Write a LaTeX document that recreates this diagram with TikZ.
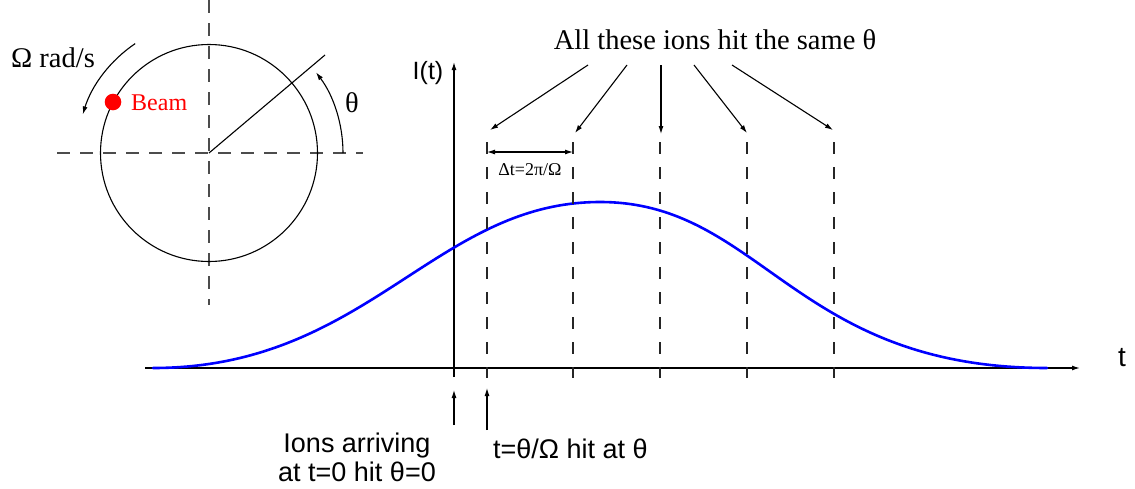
\documentclass[tikz,border=0pt]{standalone}
\usepackage{fontspec}
\setmainfont{Liberation Serif}
\setsansfont{Liberation Sans}
\usetikzlibrary{arrows.meta}
\tikzset{
  tip/.style={-{Latex[length=8pt,width=5pt]}},
  thinline/.style={line width=1.1pt,black},
  axisdash/.style={line width=1.3pt,black!70,dash pattern=on 13pt off 10pt},
  graphdash/.style={line width=1.2pt,black!85,dash pattern=on 12pt off 13pt},
  serifbig/.style={font=\fontsize{28.5}{30}\selectfont,inner sep=0pt},
  sansbig/.style={font=\sffamily\fontsize{27}{29}\selectfont,inner sep=0pt},
}
\begin{document}
\begin{tikzpicture}[x=1pt,y=-1pt]
\useasboundingbox (0,0) rectangle (1135,488);
% ---- circle part ----
\coordinate (C) at (209,153);
\coordinate (vtop) at (209,0);
\coordinate (vbot) at (209,305);
\coordinate (hl) at (57,153);
\coordinate (hr) at (363,153);
\draw[axisdash] (vtop) -- (vbot);
\draw[axisdash] (hl) -- (hr);
\draw[line width=1.1pt] (C) circle[radius=108.5];
\coordinate (R) at (325,55);
\draw[thinline] (C) -- (R);
\coordinate (thS) at (343,153);
\draw[thinline,tip] (thS) arc[start angle=0,end angle=-37,radius=134];
\coordinate (omS) at (135.2,43.6);
\draw[thinline,tip] (omS) arc[start angle=-124,end angle=-163,radius=132];
\node[serifbig] (om) at (53,58) {Ω rad/s};
\node[serifbig] (th) at (352,103) {θ};
\fill[red] (113,102) circle[radius=8.3];
\node[red,anchor=west,font=\fontsize{24}{26}\selectfont,inner sep=0pt] (beam) at (131,103) {Beam};
% ---- graph ----
\coordinate (x0) at (145,368);
\coordinate (x1) at (1080,368);
\coordinate (y0) at (454,377);
\coordinate (y1) at (454,62);
\draw[line width=1.3pt,tip] (x0) -- (x1);
\draw[line width=1.3pt,tip] (y0) -- (y1);
\node[font=\sffamily\fontsize{25}{27}\selectfont,inner sep=0pt] (It) at (428,73) {I(t)};
\node[font=\sffamily\fontsize{28}{30}\selectfont,inner sep=0pt] (tl) at (1122,358) {t};
% bell curve
\coordinate (g0) at (153,368);
\coordinate (gp) at (600,202);
\coordinate (g1) at (1047,368);
\draw[blue,line width=2.6pt,line cap=round]
  (g0) .. controls (367,368) and (435,202) .. (gp)
       .. controls (761,202) and (794,368) .. (g1);
% dashed verticals
\foreach \n/\x in {a/487,b/573,c/660,d/747,e/834}{
  \coordinate (d\n t) at (\x,142);
  \coordinate (d\n b) at (\x,378);
  \draw[graphdash] (d\n t) -- (d\n b);
}
% top label + arrows
\node[serifbig] (all) at (715,40) {All these ions hit the same θ};
\coordinate (s1) at (588,65); \coordinate (e1) at (490,130);
\coordinate (s2) at (627,65); \coordinate (e2) at (575,133);
\coordinate (s3) at (661,65); \coordinate (e3) at (661,134);
\coordinate (s4) at (694,65); \coordinate (e4) at (747,133);
\coordinate (s5) at (732,65); \coordinate (e5) at (833,130);
\foreach \i in {1,...,5}{ \draw[thinline,tip] (s\i) -- (e\i); }
% delta t
\coordinate (dl) at (487,152);
\coordinate (dr) at (573,152);
\draw[thinline,{Latex[length=8pt,width=5pt]}-{Latex[length=8pt,width=5pt]}] (dl) -- (dr);
\node[font=\fontsize{18}{20}\selectfont,inner sep=0pt] (dt) at (530,170) {Δt=2π/Ω};
% bottom arrows
\coordinate (b1s) at (454,425); \coordinate (b1e) at (454,390);
\coordinate (b2s) at (487,430); \coordinate (b2e) at (487,388);
\draw[thinline,tip] (b1s) -- (b1e);
\draw[thinline,tip] (b2s) -- (b2e);
\node[sansbig,anchor=base] (ions1) at (357,452) {Ions arriving};
\node[sansbig,anchor=base] (ions2) at (357,481) {at t=0 hit θ=0};
\node[sansbig,anchor=base west] (hit) at (493,458) {t=θ/Ω hit at θ};
\end{tikzpicture}
\end{document}
